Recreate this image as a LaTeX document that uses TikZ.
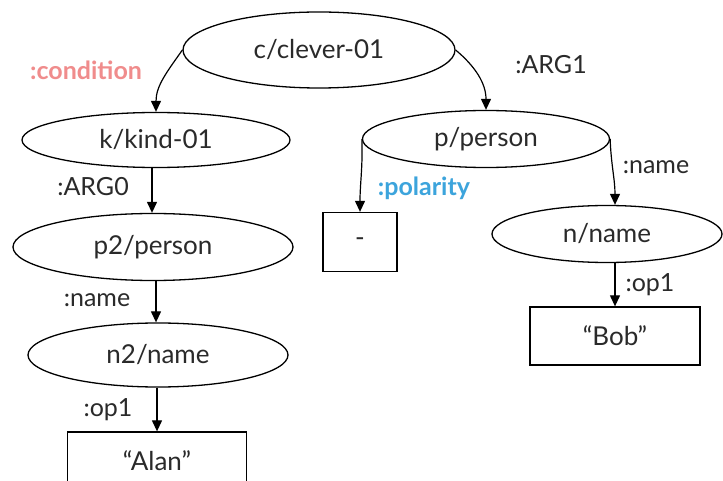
\documentclass[tikz,border=0pt]{standalone}
\usepackage{fontspec}
\setmainfont{Lato}
\usetikzlibrary{shapes.geometric,arrows.meta}
\definecolor{txt}{HTML}{2A2A2A}
\definecolor{condcol}{HTML}{F08C8C}
\definecolor{polcol}{HTML}{3CA4DC}
\tikzset{
  concept/.style={draw, ellipse, line width=1.3pt, inner sep=0pt, text=txt, font=\fontsize{26}{30}\selectfont},
  constbox/.style={draw, rectangle, line width=1.3pt, inner sep=0pt, text=txt, font=\fontsize{26}{30}\selectfont},
  rel/.style={-{Triangle[width=10pt,length=11pt]}, line width=1.2pt},
  lbl/.style={text=txt, font=\fontsize{25}{28}\selectfont, inner sep=0pt},
  lblc/.style={text=condcol, font=\bfseries\fontsize{25}{28}\selectfont, inner sep=0pt},
  lblp/.style={text=polcol, font=\bfseries\fontsize{25}{28}\selectfont, inner sep=0pt}
}
\begin{document}
\begin{tikzpicture}[x=1pt,y=-1pt]
\useasboundingbox[fill=white] (0,0) rectangle (723,481);
\node[concept, minimum width=272pt, minimum height=76pt] (c) at (319,50) {c/clever-01};
\node[concept, minimum width=268pt, minimum height=55pt] (k) at (156,140) {k/kind-01};
\node[concept, minimum width=247pt, minimum height=57pt] (p) at (486,139) {p/person};
\node[concept, minimum width=280pt, minimum height=67pt] (p2) at (153,247) {p2/person};
\node[concept, minimum width=260pt, minimum height=64pt] (n2) at (158,355) {n2/name};
\node[concept, minimum width=230pt, minimum height=57pt] (n) at (607,234) {n/name};
\node[constbox, minimum width=74pt, minimum height=59pt] (neg) at (360,242) {-};
\node[constbox, minimum width=170pt, minimum height=58pt] (bob) at (615,336) {``Bob''};
\node[constbox, minimum width=179pt, minimum height=58pt] (alan) at (157,461) {``Alan''};

\draw[rel] (c.west) to[out=235,in=90] (k.north);
\draw[rel] (c.east) to[out=-40,in=90] (p.north);
\draw[rel] (k.south -| 152,0) -- (p2.north -| 152,0);
\draw[rel] (p2.south -| 156,0) -- (n2.north -| 156,0);
\draw[rel] (n2.south -| 157,0) -- (alan.north -| 157,0);
\draw[rel] (p.west) to[out=-88,in=90] (neg.north);
\draw[rel] (p.east) to[out=-88,in=90] (n.north -| 615,0);
\draw[rel] (n.south -| 615,0) -- (bob.north);

\node[lblc] (lcond) at (86,70) {:condition};
\node[lbl] (larg1) at (551,65) {:ARG1};
\node[lbl] (larg0) at (93,187) {:ARG0};
\node[lblp] (lpol) at (424,188) {:polarity};
\node[lbl] (lname1) at (656,167) {:name};
\node[lbl] (lname2) at (97,300) {:name};
\node[lbl] (lop2) at (108,410) {:op1};
\node[lbl] (lop1) at (650,285) {:op1};
\end{tikzpicture}
\end{document}
